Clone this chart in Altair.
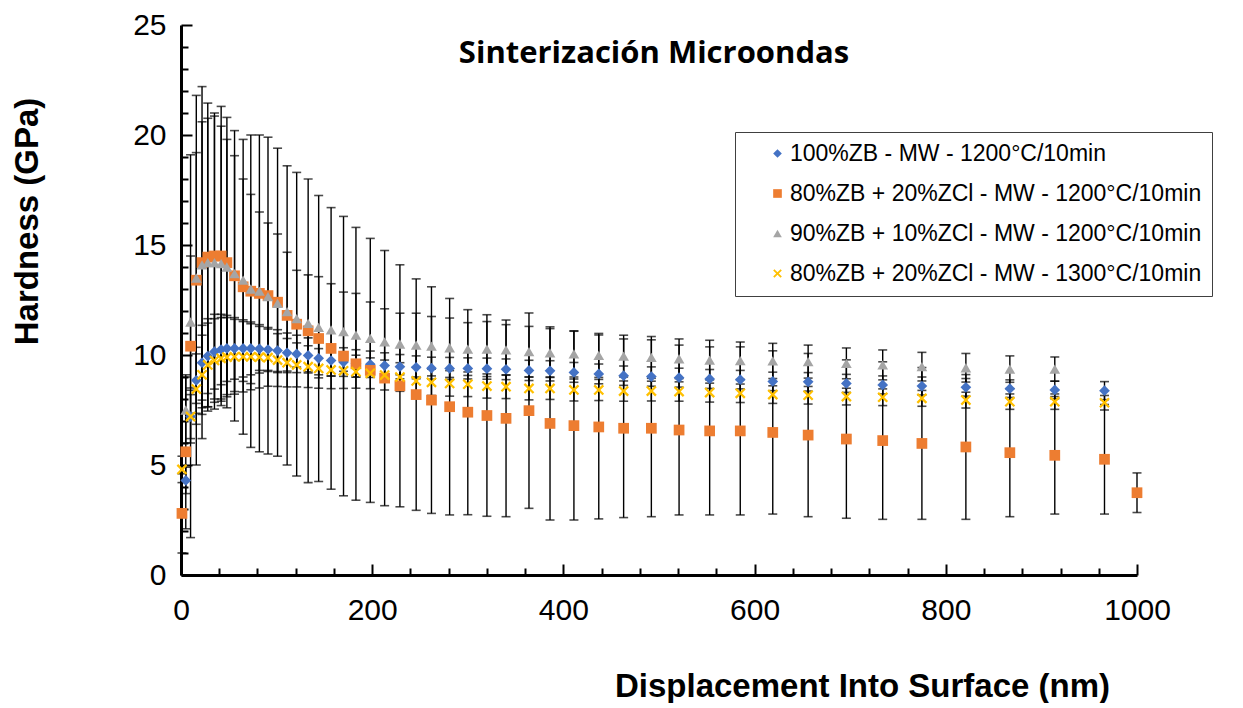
import altair as alt
import pandas as pd

# ---- data ----
X_NM = [1, 5, 10, 16, 22, 28, 35, 42, 48, 56, 65, 73, 82, 91, 101, 111, 121, 133, 144, 157,
        170, 183, 198, 213, 229, 246, 262, 281, 300, 320, 340, 364, 386, 411, 437, 463, 492, 521, 553, 585,
        619, 656, 696, 734, 775, 821, 867, 914, 966, 1000]

SERIES = ["100%ZB - MW - 1200°C/10min",
          "80%ZB + 20%ZCl - MW - 1200°C/10min",
          "90%ZB + 10%ZCl - MW - 1200°C/10min",
          "80%ZB + 20%ZCl - MW - 1300°C/10min"]
COLORS = ["#4472C4", "#ED7D31", "#A5A5A5", "#FFC000"]

BLUE = [None, 4.3, 7.2, 8.85, 9.65, 9.95, 10.15, 10.25, 10.3, 10.3,
        10.3, 10.3, 10.28, 10.25, 10.2, 10.1, 10.05, 9.98, 9.85, 9.75,
        9.68, 9.62, 9.58, 9.52, 9.47, 9.44, 9.4, 9.39, 9.39, 9.38,
        9.35, 9.3, 9.28, 9.21, 9.14, 9.06, 9.02, 8.97, 8.91, 8.88,
        8.8, 8.78, 8.71, 8.64, 8.59, 8.53, 8.47, 8.41, 8.38, None]
BLUE_ERR = [None, 0.6, 1.0, 1.5, 1.7, 1.7, 1.7, 1.6, 1.5, 1.4,
            1.3, 1.2, 1.1, 1.0, 0.95, 0.9, 0.85, 0.8, 0.75, 0.7,
            0.65, 0.62, 0.6, 0.58, 0.55, 0.52, 0.5, 0.5, 0.48, 0.48,
            0.47, 0.46, 0.46, 0.45, 0.45, 0.44, 0.44, 0.43, 0.43, 0.42,
            0.42, 0.42, 0.41, 0.41, 0.41, 0.4, 0.4, 0.4, 0.41, None]

ORANGE = [2.8, 5.6, 10.4, 13.4, 14.2, 14.45, 14.5, 14.5, 14.2, 13.6,
          13.1, 12.9, 12.8, 12.7, 12.4, 11.8, 11.4, 11.1, 10.75, 10.3,
          9.95, 9.6, 9.3, 8.95, 8.6, 8.2, 7.95, 7.65, 7.4, 7.25,
          7.12, 7.47, 6.89, 6.79, 6.73, 6.67, 6.67, 6.59, 6.55, 6.55,
          6.48, 6.36, 6.18, 6.11, 5.98, 5.82, 5.56, 5.44, 5.26, 3.74]
ORANGE_ERR = [1.8, 3.5, 8.7, 8.4, 8.0, 7.0, 6.5, 6.8, 6.6, 6.6,
              6.7, 7.1, 7.2, 7.2, 7.0, 6.8, 6.9, 6.9, 6.5, 6.4,
              6.35, 6.2, 6.0, 5.8, 5.5, 5.26, 5.15, 4.92, 4.66, 4.58,
              4.47, 4.44, 4.39, 4.29, 4.18, 4.06, 4.02, 3.86, 3.82, 3.82,
              3.71, 3.71, 3.6, 3.58, 3.45, 3.29, 2.91, 2.67, 2.49, 0.9]

GRAY = [None, 7.5, 11.5, 13.5, 14.1, 14.2, 14.2, 14.15, 14.0, 13.7,
        13.4, 13.0, 12.9, 12.65, 12.35, 11.97, 11.65, 11.44, 11.26, 11.14,
        11.06, 10.9, 10.76, 10.6, 10.5, 10.45, 10.4, 10.33, 10.27, 10.27,
        10.23, 10.15, 10.1, 10.05, 9.98, 9.95, 9.89, 9.83, 9.77, 9.74,
        9.73, 9.7, 9.62, 9.55, 9.47, 9.42, 9.36, 9.36, None, None]
GRAY_ERR = [None, 1.5, 3.0, 5.7, 6.5, 6.56, 6.66, 6.25, 5.8, 5.36,
            4.6, 4.3, 3.6, 3.35, 3.15, 2.7, 2.2, 2.2, 2.3, 2.1,
            1.8, 1.9, 1.65, 1.5, 1.4, 1.45, 1.35, 1.35, 1.2, 1.25,
            1.15, 1.15, 1.1, 1.05, 1.0, 0.95, 0.95, 0.9, 0.9, 0.85,
            0.8, 0.75, 0.7, 0.68, 0.65, 0.65, 0.6, 0.55, None, None]

YELLOW = [4.8, None, 7.2, 8.45, 9.1, 9.55, 9.75, 9.85, 9.9, 9.92,
          9.92, 9.92, 9.9, 9.88, 9.77, 9.65, 9.55, 9.47, 9.39, 9.32,
          9.28, 9.24, 9.17, 9.09, 9.0, 8.82, 8.76, 8.71, 8.67, 8.59,
          8.56, 8.48, 8.48, 8.41, 8.41, 8.36, 8.36, 8.34, 8.29, 8.26,
          8.2, 8.17, 8.11, 8.08, 8.03, 7.95, 7.88, 7.88, 7.83, None]
YELLOW_ERR = [0.6, None, 1.2, 1.6, 1.8, 1.9, 1.9, 1.85, 1.8, 1.7,
              1.6, 1.5, 1.4, 1.3, 1.2, 1.1, 1.0, 0.95, 0.9, 0.85,
              0.8, 0.75, 0.7, 0.68, 0.65, 0.62, 0.6, 0.58, 0.56, 0.55,
              0.54, 0.52, 0.5, 0.5, 0.48, 0.46, 0.45, 0.44, 0.43, 0.42,
              0.4, 0.4, 0.38, 0.38, 0.36, 0.36, 0.35, 0.35, 0.33, None]

X_LABELS = [0, 200, 400, 600, 800, 1000]
Y_LABELS = [0, 5, 10, 15, 20, 25]
X_MINOR = list(range(0, 1001, 40))
Y_MINOR = list(range(0, 26))

# ---- build table ----
rows = []
for k, (name, vals, errs) in enumerate(zip(SERIES, [BLUE, ORANGE, GRAY, YELLOW],
                                           [BLUE_ERR, ORANGE_ERR, GRAY_ERR, YELLOW_ERR])):
    for x, v, e in zip(X_NM, vals, errs):
        if v is None:
            continue
        rows.append({"x": x, "y": v, "lo": v - e, "hi": v + e, "series": name, "order": k})
df = pd.DataFrame(rows).sort_values(["order", "x"])

X_PATH = ("M-1,-0.7L-0.7,-1L0,-0.3L0.7,-1L1,-0.7L0.3,0L1,0.7L0.7,1L0,0.3"
          "L-0.7,1L-1,0.7L-0.3,0Z")

W, H = 956, 550
FONT = "Liberation Sans"

xs = alt.Scale(domain=[0, 1000], nice=False, zero=False)
ys = alt.Scale(domain=[0, 25], nice=False, zero=False)

base = alt.Chart(df)

# inside tick axes (on the error-bar rule layer)
x_in = alt.Axis(orient="top", offset=-H, labels=False, domain=False, grid=False, title=None,
                values=X_MINOR, tickColor="black", tickWidth=2,
                tickSize={"condition": {"test": "datum.value % 200 === 0", "value": 11}, "value": 7})
y_in = alt.Axis(orient="right", offset=-W, labels=False, domain=False, grid=False, title=None,
                values=Y_MINOR, tickColor="black", tickWidth=2,
                tickSize={"condition": {"test": "datum.value % 5 === 0", "value": 11}, "value": 7})

rules = base.mark_rule(color="black", strokeWidth=1.4).encode(
    x=alt.X("x:Q", scale=xs, axis=x_in),
    y=alt.Y("lo:Q", scale=ys, axis=y_in),
    y2="hi:Q",
)
cap_lo = base.mark_tick(color="black", thickness=1.6, size=9, orient="horizontal").encode(
    x=alt.X("x:Q", scale=xs, axis=None),
    y=alt.Y("lo:Q", scale=ys, axis=None),
)
cap_hi = base.mark_tick(color="black", thickness=1.6, size=9, orient="horizontal").encode(
    x=alt.X("x:Q", scale=xs, axis=None),
    y=alt.Y("hi:Q", scale=ys, axis=None),
)

x_main = alt.Axis(orient="bottom", values=X_LABELS, format="d", grid=False, ticks=False, tickSize=0,
                  domainColor="black", domainWidth=3, labelFont=FONT, labelFontSize=30,
                  labelColor="black", labelPadding=20, labelFlush=False,
                  title="Displacement Into Surface (nm)", titleFont=FONT, titleFontSize=33,
                  titleFontWeight="bold", titleColor="black", titleX=681, titleY=121,
                  titleAlign="center", titleBaseline="alphabetic", titleAnchor="middle")
y_main = alt.Axis(orient="left", values=Y_LABELS, grid=False, ticks=False, tickSize=0,
                  domainColor="black", domainWidth=3, labelFont=FONT, labelFontSize=30,
                  labelColor="black", labelPadding=15, labelFlush=False,
                  title="Hardness (GPa)", titleFont=FONT, titleFontSize=33,
                  titleFontWeight="bold", titleColor="black", titleAngle=-90,
                  titleX=-144, titleY=196, titleAlign="center", titleBaseline="alphabetic",
                  titleAnchor="middle")

points = base.mark_point(filled=True, opacity=1, size=115, strokeWidth=0).encode(
    x=alt.X("x:Q", scale=xs, axis=x_main),
    y=alt.Y("y:Q", scale=ys, axis=y_main),
    color=alt.Color("series:N", scale=alt.Scale(domain=SERIES, range=COLORS),
                    legend=alt.Legend(orient="none", legendX=554, legendY=107, title=None,
                                      labelFont=FONT, labelFontSize=23, labelColor="black",
                                      symbolSize=75, rowPadding=16, padding=10,
                                      strokeColor="#404040", fillColor="white",
                                      symbolOffset=21, labelOffset=1, labelLimit=600,
                                      symbolStrokeWidth=0)),
    shape=alt.Shape("series:N", scale=alt.Scale(domain=SERIES,
                                                range=["diamond", "square", "triangle-up", X_PATH]),
                    legend=None),
    order=alt.Order("order:Q"),
)

chart = alt.layer(rules, cap_lo, cap_hi, points).resolve_axis(
    x="independent", y="independent"
).properties(
    width=W, height=H,
    title=alt.Title("Sinterización Microondas", font="Open Sans", fontSize=31, fontWeight="bold",
                    color="black", anchor="middle", baseline="alphabetic", offset=0, dy=84, dx=-5),
    autosize=alt.AutoSizeParams(type="none"),
    padding={"left": 173, "top": 17, "right": 90, "bottom": 128},
).configure_view(stroke=None)

chart.save("out.html", embed_options={"renderer": "svg", "actions": False})
